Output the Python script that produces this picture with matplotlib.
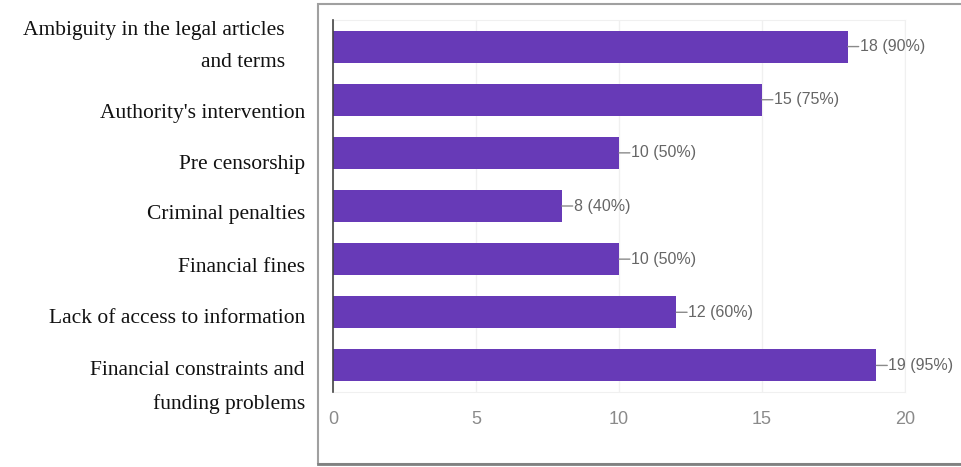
import matplotlib.pyplot as plt
from matplotlib.patches import Rectangle

# data
categories = ["Ambiguity in the legal articles\nand terms",
              "Authority's intervention",
              "Pre censorship",
              "Criminal penalties",
              "Financial fines",
              "Lack of access to information",
              "Financial constraints and\nfunding problems"]
counts = [18, 15, 10, 8, 10, 12, 19]
percents = [90, 75, 50, 40, 50, 60, 95]
xticks = [0, 5, 10, 15, 20]

# label tweaks (pixels) - the labels in the original are not quite centred on the bars
label_dx = [-48, -28, -28, -28, -28, -28, -28]
label_dy = [0, -14, -12, -9, -8, -6, -22]

W, H = 961, 467
fig = plt.figure(figsize=(W / 100, H / 100), dpi=100)
ax = fig.add_axes([333 / W, 1 - 392 / H, (905 - 333) / W, (392 - 20) / H])

y = list(range(len(categories)))
ax.barh(y, counts, height=0.6, color='#673ab7', zorder=3)
ax.set_xlim(0, 20)
ax.set_ylim(len(categories) - 0.5, -0.5)

ax.set_yticks([])
ax.set_xticks(xticks)
ax.set_xticklabels([str(t) for t in xticks], fontfamily='Liberation Sans', fontsize=13, color='#8a8a8a')
ax.tick_params(axis='x', length=0, pad=14)
ax.grid(axis='x', color='#f0f0f0', lw=1, zorder=0)
for s in ['top', 'right', 'bottom']:
    ax.spines[s].set_color('#f0f0f0')
ax.spines['left'].set_color('#444444')
ax.spines['left'].set_linewidth(1.2)
ax.spines['left'].set_zorder(4)

# value labels with little leader line
for i, (c, p) in enumerate(zip(counts, percents)):
    ax.annotate('', xy=(c, i), xytext=(c + 0.38, i),
                arrowprops=dict(arrowstyle='-', color='#8a8a8a', lw=1, shrinkA=0, shrinkB=0))
    ax.text(c + 0.42, i, f'{c} ({p}%)', va='center', ha='left',
            fontfamily='Liberation Sans', fontsize=11.5, color='#666666')

# category labels outside the box
for i, lab in enumerate(categories):
    ax.annotate(lab, xy=(0, i), xycoords=ax.get_yaxis_transform(),
                xytext=(label_dx[i], label_dy[i]), textcoords='offset pixels',
                ha='right', va='center', fontfamily='Liberation Serif',
                fontsize=15.5, color='#111111', linespacing=1.9, annotation_clip=False)

# outer box
fig.patches.append(Rectangle((318 / W, 1 - 464 / H), 1.0, (464 - 4) / H,
                             transform=fig.transFigure, fill=False,
                             edgecolor='#a0a0a0', lw=1.5, zorder=0))
fig.add_artist(plt.Line2D([318 / W, 1], [1 - 464 / H] * 2, color='#808080', lw=2))

fig.savefig('out.png', dpi=100)
